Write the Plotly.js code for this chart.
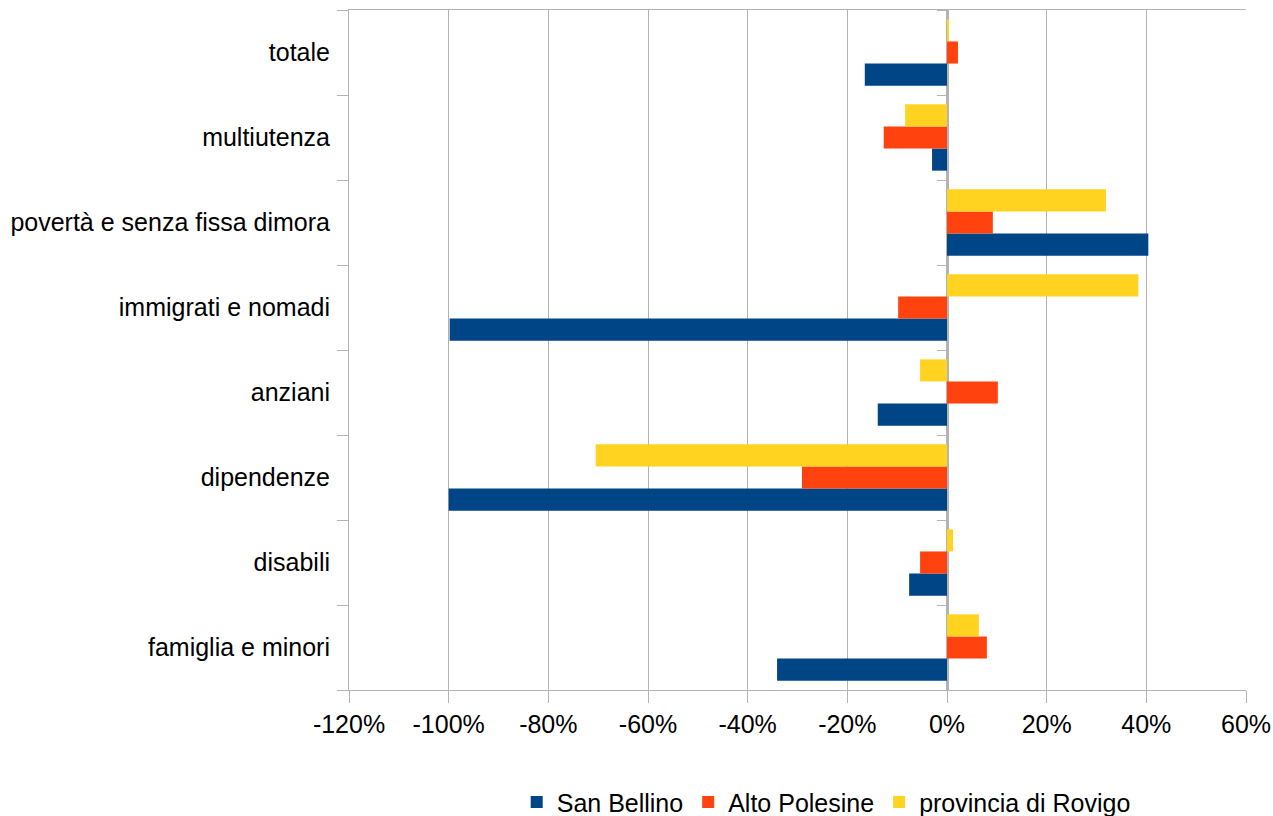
<!DOCTYPE html>
<html>
<head>
<meta charset="utf-8">
<script src="https://cdn.plot.ly/plotly-3.0.1.min.js"></script>
<style>
html,body{margin:0;padding:0;background:#fff;}
#chart{width:1273px;height:816px;}
</style>
</head>
<body>
<div id="chart"></div>
<script>
// Categories, bottom to top
var categories = ['famiglia e minori', 'disabili', 'dipendenze', 'anziani',
  'immigrati e nomadi', 'povertà e senza fissa dimora', 'multiutenza', 'totale'];
// Percent change values
var sanBellino   = [-34.1, -7.6, -100, -13.9, -99.8, 40.4, -3.0, -16.5];
var altoPolesine = [8.0, -5.4, -29.1, 10.2, -9.8, 9.2, -12.7, 2.2];
var provRovigo   = [6.4, 1.2, -70.5, -5.4, 38.4, 31.9, -8.4, 0.4];
var seriesNames  = ['San Bellino', 'Alto Polesine', 'provincia di Rovigo'];
var tickValues   = [-120, -100, -80, -60, -40, -20, 0, 20, 40, 60];
var tickLabels   = ['-120%', '-100%', '-80%', '-60%', '-40%', '-20%', '0%', '20%', '40%', '60%'];

var colors = ['#004586', '#ff420e', '#ffd320'];
var font = 'Liberation Sans, Arial, sans-serif';
var fs = 25;

var data = [sanBellino, altoPolesine, provRovigo].map(function(v, i) {
  return {
    type: 'bar', orientation: 'h', name: seriesNames[i],
    x: v, y: categories,
    marker: {color: colors[i], line: {width: 0}},
    hoverinfo: 'x+y'
  };
});
// helper trace so the secondary (zero-position) category axis shows its ticks
data.push({
  type: 'scatter', mode: 'markers', x: categories.map(function(){return null;}),
  y: categories, yaxis: 'y2', showlegend: false, hoverinfo: 'skip'
});

var layout = {
  width: 1273, height: 816,
  margin: {l: 349, r: 27, t: 10, b: 126, autoexpand: false},
  paper_bgcolor: '#fff', plot_bgcolor: '#fff',
  font: {family: font, size: fs, color: '#000'},
  barmode: 'group', bargap: 0.22, bargroupgap: 0,
  showlegend: true,
  legend: {
    orientation: 'h', x: 0.532, xanchor: 'center', y: -0.165, yanchor: 'middle',
    font: {family: font, size: fs, color: '#000'},
    traceorder: 'normal', itemwidth: 30
  },
  xaxis: {
    range: [-120, 60], tickvals: tickValues, ticktext: tickLabels,
    showgrid: true, gridcolor: '#b3b3b3', gridwidth: 1,
    zeroline: true, zerolinecolor: '#b3b3b3', zerolinewidth: 3,
    showline: true, linecolor: '#b3b3b3', linewidth: 1, mirror: true,
    ticks: 'outside', ticklen: 12, tickcolor: '#b3b3b3',
    tickfont: {family: font, size: fs, color: '#000'},
    fixedrange: true, automargin: false
  },
  yaxis: {
    type: 'category', categoryorder: 'array', categoryarray: categories,
    range: [-0.5, 7.5],
    showgrid: false, zeroline: false,
    showline: true, linecolor: '#b3b3b3', linewidth: 1,
    ticks: 'outside', tickson: 'boundaries', ticklen: 11, tickcolor: '#b3b3b3',
    tickfont: {family: font, size: fs, color: '#000'},
    ticklabelstandoff: 13,
    fixedrange: true, automargin: false
  },
  yaxis2: {
    type: 'category', categoryorder: 'array', categoryarray: categories,
    range: [-0.5, 7.5], overlaying: 'y', anchor: 'free', position: 120/180, side: 'left',
    showgrid: false, zeroline: false, showline: false,
    ticks: 'outside', tickson: 'boundaries', ticklen: 10, tickcolor: '#b3b3b3',
    showticklabels: false, fixedrange: true, automargin: false
  }
};

Plotly.newPlot('chart', data, layout, {displayModeBar: false, staticPlot: true});
</script>
</body>
</html>
